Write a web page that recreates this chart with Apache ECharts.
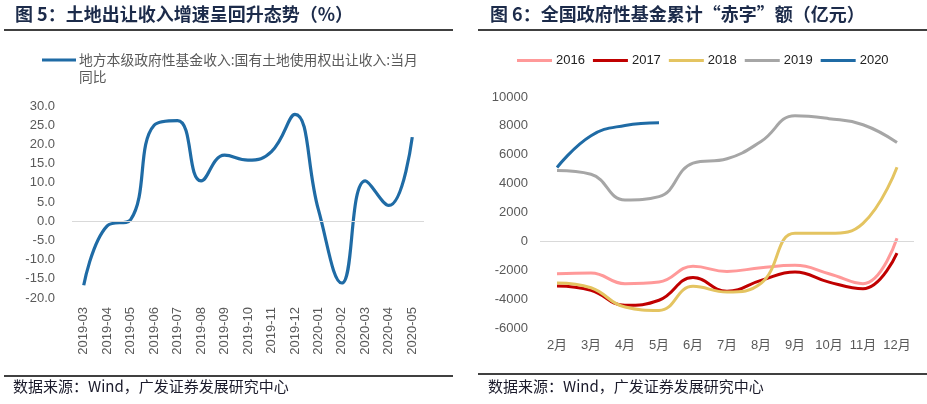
<!DOCTYPE html>
<html>
<head>
<meta charset="utf-8">
<script src="https://cdn.jsdelivr.net/npm/echarts@6/dist/echarts.min.js"></script>
<style>
html,body{margin:0;padding:0;background:#fff;}
#c{width:927px;height:404px;}
</style>
</head>
<body>
<div id="c"></div>
<script>
// ---- Left chart data ----
var leftMonths = ['2019-03','2019-04','2019-05','2019-06','2019-07','2019-08','2019-09','2019-10','2019-11','2019-12','2020-01','2020-02','2020-03','2020-04','2020-05'];
var landGrowth = [-16.7, -1.2, 0.4, 25.0, 26.2, 10.5, 17.2, 15.9, 18.1, 27.8, 3.0, -16.1, 10.5, 4.1, 21.9];
var leftSeriesName = '地方本级政府性基金收入:国有土地使用权出让收入:当月同比';

// ---- Right chart data ----
var rightMonths = ['2月','3月','4月','5月','6月','7月','8月','9月','10月','11月','12月'];
var deficit2016 = [-2240, -2190, -2930, -2820, -1730, -2080, -1820, -1660, -2240, -2930, 210];
var deficit2017 = [-3090, -3390, -4430, -4080, -2510, -3460, -2700, -2120, -2820, -3280, -810];
var deficit2018 = [-2880, -3210, -4550, -4780, -3110, -3510, -2900, 560, 560, 1250, 5140];
var deficit2019 = [4910, 4650, 2870, 3100, 5420, 5720, 6920, 8700, 8500, 8080, 6850];
var deficit2020 = [5120, 7320, 8030, 8220];

var LABEL = '#595959';
var FONT = 'Liberation Sans, Arial, "Noto Sans CJK SC", sans-serif';
var TFONT = '"Noto Sans CJK SC", sans-serif';

var chart = echarts.init(document.getElementById('c'));

function lineSeries(name, data, color, xi, width) {
  return {
    name: name, type: 'line', data: data, xAxisIndex: xi, yAxisIndex: xi,
    smooth: 0.45, symbol: 'none', silent: true,
    lineStyle: { color: color, width: width || 3 },
    itemStyle: { color: color }
  };
}

var zeroLine = function () {
  return {
    silent: true, symbol: 'none', label: { show: false },
    lineStyle: { color: '#d9d9d9', type: 'solid', width: 1 },
    data: [{ yAxis: 0 }]
  };
};

var s0 = lineSeries(leftSeriesName, landGrowth, '#1F6BA5', 0, 3.2);
s0.markLine = zeroLine();
var s2016 = lineSeries('2016', deficit2016, '#FF9999', 1, 3);
s2016.markLine = zeroLine();

var option = {
  animation: false,
  backgroundColor: '#fff',
  textStyle: { fontFamily: FONT },
  grid: [
    { left: 72, top: 106, width: 352, height: 192 },
    { left: 540, top: 97, width: 374, height: 231 }
  ],
  legend: [
    {
      left: 42, top: 53, padding: 0, itemWidth: 34, itemHeight: 3, itemGap: 10, icon: 'rect',
      data: [leftSeriesName],
      formatter: function () { return '地方本级政府性基金收入:国有土地使用权出让收入:当月'; },
      textStyle: { color: LABEL, fontSize: 13.8, fontFamily: TFONT, padding: [0, 0, 0, -2] }
    },
    {
      left: 517, top: 54, padding: 0, itemWidth: 35, itemHeight: 3, itemGap: 8, icon: 'rect',
      data: ['2016', '2017', '2018', '2019', '2020'],
      textStyle: { color: '#222', fontSize: 13, fontFamily: FONT, padding: [0, 0, 0, -1] }
    }
  ],
  xAxis: [
    {
      type: 'category', gridIndex: 0, data: leftMonths, boundaryGap: true,
      axisLine: { show: false }, axisTick: { show: false },
      axisLabel: { rotate: 90, margin: 9, color: LABEL, fontSize: 13, interval: 0 }
    },
    {
      type: 'category', gridIndex: 1, data: rightMonths, boundaryGap: true,
      axisLine: { show: false }, axisTick: { show: false },
      axisLabel: { margin: 11, color: LABEL, fontSize: 13, interval: 0 }
    }
  ],
  yAxis: [
    {
      type: 'value', gridIndex: 0, min: -20, max: 30, interval: 5,
      splitLine: { show: false }, axisLine: { show: false }, axisTick: { show: false },
      axisLabel: { color: LABEL, fontSize: 13, margin: 17, formatter: function (v) { return v.toFixed(1); } }
    },
    {
      type: 'value', gridIndex: 1, min: -6000, max: 10000, interval: 2000,
      splitLine: { show: false }, axisLine: { show: false }, axisTick: { show: false },
      axisLabel: { color: LABEL, fontSize: 13, margin: 12, formatter: function (v) { return String(v); } }
    }
  ],
  series: [
    s0,
    s2016,
    lineSeries('2017', deficit2017, '#C00000', 1, 3),
    lineSeries('2018', deficit2018, '#E4C461', 1, 3),
    lineSeries('2019', deficit2019, '#A6A6A6', 1, 3),
    lineSeries('2020', deficit2020, '#1F6BA5', 1, 3)
  ],
  graphic: [
    { type: 'text', left: 15, top: 5, style: { text: '图 5：土地出让收入增速呈回升态势（%）', font: 'bold 18px ' + TFONT, fill: '#1C2B4A' } },
    { type: 'line', shape: { x1: 4, y1: 30, x2: 453, y2: 30 }, style: { stroke: '#000', lineWidth: 1.3 } },
    { type: 'text', left: 79, top: 70, style: { text: '同比', font: '13.8px ' + TFONT, fill: LABEL } },
    { type: 'line', shape: { x1: 4, y1: 376, x2: 453, y2: 376 }, style: { stroke: '#000', lineWidth: 1.3 } },
    { type: 'text', left: 13, top: 379, style: { text: '数据来源：Wind，广发证券发展研究中心', font: '15px ' + TFONT, fill: '#1a1a2a' } },

    { type: 'text', left: 490, top: 5, style: { text: '图 6：全国政府性基金累计“赤字”额（亿元）', font: 'bold 18px ' + TFONT, fill: '#1C2B4A' } },
    { type: 'line', shape: { x1: 478, y1: 30, x2: 927, y2: 30 }, style: { stroke: '#000', lineWidth: 1.3 } },
    { type: 'line', shape: { x1: 478, y1: 374, x2: 927, y2: 374 }, style: { stroke: '#000', lineWidth: 1.3 } },
    { type: 'text', left: 488, top: 379, style: { text: '数据来源：Wind，广发证券发展研究中心', font: '15px ' + TFONT, fill: '#1a1a2a' } }
  ]
};
chart.setOption(option);
</script>
</body>
</html>
